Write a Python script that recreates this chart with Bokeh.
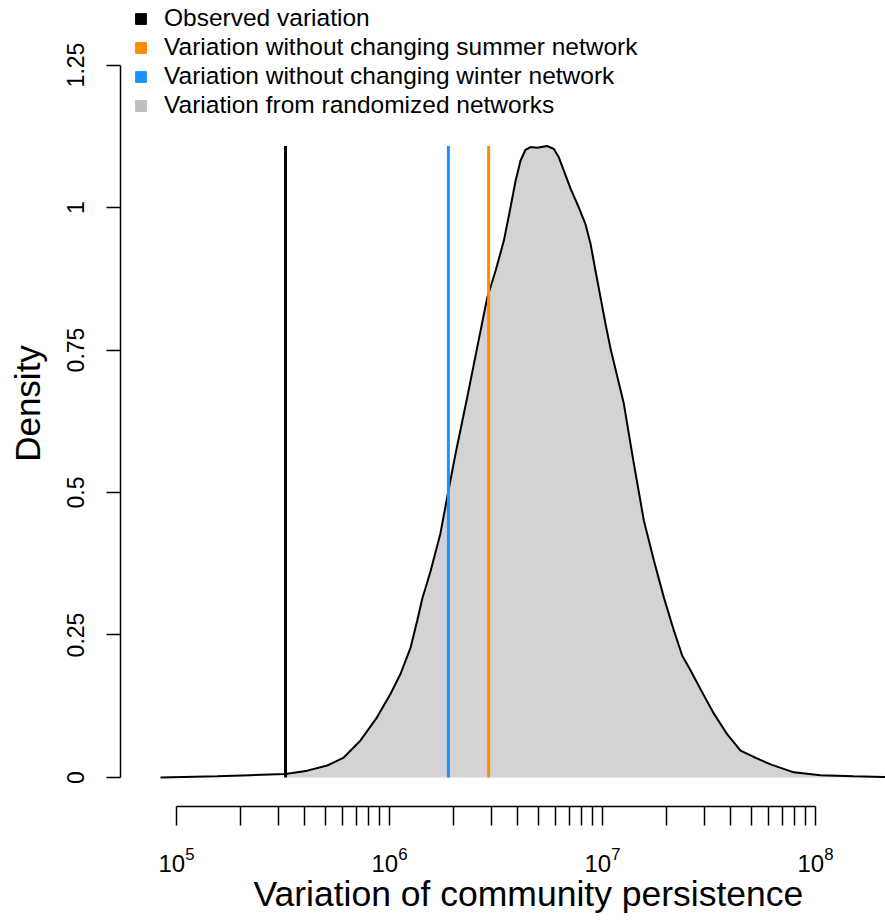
import numpy as np
from bokeh.plotting import figure
from bokeh.models import (Range1d, FixedTicker, LogTickFormatter, CustomJSTickFormatter,
                          Legend, LegendItem, Title)
from bokeh.embed import file_html
from bokeh.resources import INLINE

# ---- data ----
log10_persistence = [4.925, 5.191, 5.347, 5.512, 5.614, 5.708, 5.785, 5.864, 5.942, 6.005,
                     6.052, 6.099, 6.130, 6.154, 6.192, 6.239, 6.271, 6.310, 6.365, 6.412,
                     6.459, 6.498, 6.537, 6.568, 6.592, 6.615, 6.638, 6.662, 6.693, 6.740,
                     6.771, 6.795, 6.818, 6.850, 6.889, 6.920, 6.944, 6.967, 6.991, 7.014,
                     7.038, 7.100, 7.147, 7.194, 7.241, 7.288, 7.335, 7.374, 7.413, 7.460,
                     7.523, 7.585, 7.648, 7.710, 7.789, 7.898, 8.023, 8.180, 8.321, 8.500]
density = [0.000, 0.002, 0.004, 0.006, 0.012, 0.021, 0.035, 0.065, 0.106, 0.147,
           0.182, 0.228, 0.275, 0.314, 0.361, 0.428, 0.492, 0.568, 0.667, 0.755,
           0.842, 0.889, 0.942, 1.000, 1.047, 1.082, 1.101, 1.106, 1.105, 1.108,
           1.103, 1.088, 1.065, 1.033, 1.000, 0.971, 0.936, 0.889, 0.842, 0.796,
           0.752, 0.656, 0.551, 0.451, 0.381, 0.316, 0.258, 0.214, 0.188, 0.155,
           0.112, 0.076, 0.047, 0.036, 0.023, 0.009, 0.004, 0.002, 0.001, 0.000]

observed_variation = 3.25e5
no_summer_change = 2.92e6
no_winter_change = 1.89e6

legend_labels = ["Observed variation",
                 "Variation without changing summer network",
                 "Variation without changing winter network",
                 "Variation from randomized networks"]
legend_colors = ["#000000", "#FF8C00", "#1E90FF", "#BEBEBE"]

x_title = "Variation of community persistence"
y_title = "Density"

y_ticks = [0, 0.25, 0.5, 0.75, 1, 1.25]
x_major_ticks = [1e5, 1e6, 1e7, 1e8]
x_minor_ticks = [m * 10.0 ** k for k in (5, 6, 7) for m in range(2, 10)]

FONT = "Liberation Sans"

# ---- derived arrays ----
L = np.array(log10_persistence)
d = np.array(density)
xs = 10.0 ** L
mask = xs > observed_variation
fill_x = np.concatenate([[observed_variation], xs[mask]])
fill_y = np.concatenate([[np.interp(np.log10(observed_variation), L, d)], d[mask]])
line_top = float(d.max())

p = figure(width=885, height=922, x_axis_type="log",
           x_range=Range1d(5.459e4, 2.131e8), y_range=Range1d(-0.0509, 1.3632),
           output_backend="svg", toolbar_location=None,
           min_border_left=120, min_border_right=0, min_border_top=0,
           min_border_bottom=116)
p.outline_line_color = None
p.grid.visible = False
p.background_fill_color = "white"
p.border_fill_color = "white"

# density area and curve
p.varea(x=fill_x, y1=0, y2=fill_y, fill_color="#D3D3D3")
p.line(x=xs, y=d, line_color="black", line_width=2)

# vertical reference lines
p.segment(x0=[no_winter_change], y0=[0], x1=[no_winter_change], y1=[line_top],
          line_color="#1E90FF", line_width=3)
p.segment(x0=[no_summer_change], y0=[0], x1=[no_summer_change], y1=[line_top],
          line_color="#FF8C00", line_width=3)
p.segment(x0=[observed_variation], y0=[0], x1=[observed_variation], y1=[line_top],
          line_color="black", line_width=3)

# legend (square markers that are never drawn in the plot area)
items = []
for lab, col in zip(legend_labels, legend_colors):
    r = p.scatter(x=np.array([np.nan]), y=np.array([np.nan]), marker="square",
                  size=10, fill_color=col, line_color=col)
    items.append(LegendItem(label=lab, renderers=[r]))
legend = Legend(items=items, location=(7, 687), glyph_width=27, glyph_height=27,
                label_text_font=FONT, label_text_font_size="24.5px",
                label_text_color="black", label_standoff=10,
                spacing=1, padding=0, margin=0, border_line_alpha=0,
                background_fill_alpha=0, label_height=27)
p.add_layout(legend)

# x axis
xa = p.xaxis[0]
xa.ticker = FixedTicker(ticks=x_major_ticks, minor_ticks=x_minor_ticks)
xa.formatter = LogTickFormatter()
xa.bounds = (1e5, 1e8)
xa.axis_line_width = 1.5
xa.axis_line_color = "black"
xa.major_tick_line_width = 1.5
xa.minor_tick_line_width = 1.5
xa.major_tick_line_color = "black"
xa.minor_tick_line_color = "black"
xa.major_tick_in = 0
xa.major_tick_out = 19
xa.minor_tick_in = 0
xa.minor_tick_out = 19
xa.major_label_text_font = FONT
xa.major_label_text_font_size = "24px"
xa.major_label_text_color = "black"
xa.major_label_standoff = 21

# x-axis title in the panel below the axis, placed as in the reference
p.add_layout(Title(text=x_title, align="left", offset=133, standoff=-5,
                   text_font=FONT, text_font_size="35.5px", text_font_style="normal",
                   text_color="black"), "below")

# y axis
ya = p.yaxis[0]
ya.ticker = FixedTicker(ticks=y_ticks)
ya.formatter = CustomJSTickFormatter(code="return String(tick)")
ya.bounds = (0, 1.25)
ya.axis_line_width = 1.5
ya.axis_line_color = "black"
ya.major_tick_line_width = 1.5
ya.major_tick_line_color = "black"
ya.minor_tick_line_color = None
ya.major_tick_in = 0
ya.major_tick_out = 14
ya.major_label_orientation = "parallel"
ya.major_label_text_font = FONT
ya.major_label_text_font_size = "23px"
ya.major_label_text_color = "black"
ya.major_label_standoff = 22
ya.axis_label = y_title
ya.axis_label_text_font = FONT
ya.axis_label_text_font_size = "35px"
ya.axis_label_text_font_style = "normal"
ya.axis_label_text_color = "black"
ya.axis_label_standoff = 18

open("out.html", "w").write(file_html(p, INLINE))
